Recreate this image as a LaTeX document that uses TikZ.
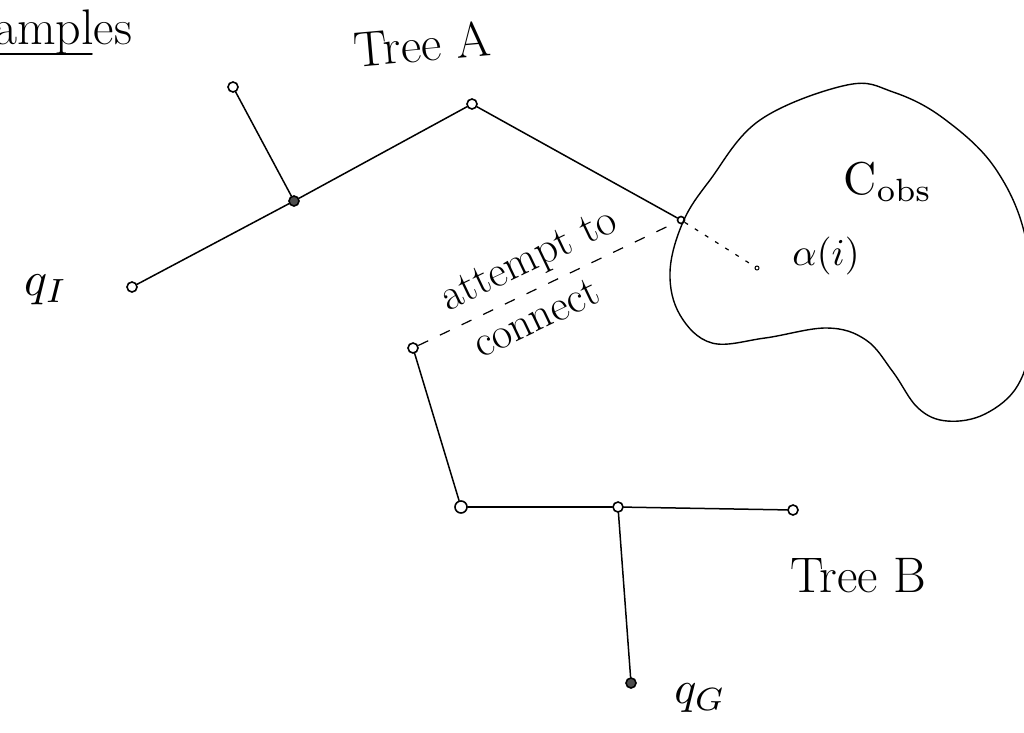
\documentclass[tikz,border=0pt]{standalone}
\begin{document}
\begin{tikzpicture}[x=1pt,y=-1pt,
  vtx/.style={circle,draw,line width=1.6pt,inner sep=0pt,minimum size=10pt},
  hub/.style={vtx,fill=black!70},
  edge/.style={line width=1.5pt,line cap=round},
  tryline/.style={line width=1.2pt,dash pattern=on 11pt off 13pt},
  probe/.style={line width=1.2pt,dash pattern=on 4pt off 8pt},
  big/.style={font=\fontsize{50}{60}\selectfont},
  mid/.style={font=\fontsize{44}{50}\selectfont,inner sep=0pt}]
\useasboundingbox (0,0) rectangle (1024,732);

% heading
\node[big,anchor=base west,inner sep=0pt] (head) at (-6,44) {amples};
\draw[edge] ([yshift=-10pt]head.base west) -- +(98,0);

% obstacle region
\draw[line width=1.4pt] plot[smooth cycle,tension=0.62] coordinates {
  (847,85) (760,120) (710,180) (683,222) (670,272) (680,315) (712,343)
  (765,338) (827,328) (866,340) (893,372) (918,408) (947,421) (985,414)
  (1018,385) (1030,335) (1026,240) (995,168) (943,118) (893,92)};
\node[inner sep=0pt] (cobs) at (888,182) {\scalebox{4.6}{C$_{\mathrm{obs}}$}};

% tree A
\node[vtx] (a1) at (233,87) {};
\node[hub] (a2) at (294,201) {};
\node[vtx] (a3) at (472,104) {};
\node[vtx,minimum size=7pt] (a4) at (681,220) {};
\node[vtx] (qi) at (132,287) {};
\draw[edge] (qi) -- (a2);
\draw[edge] (a1) -- (a2);
\draw[edge] (a2) -- (a3);
\draw[edge] (a3) -- (a4);
\node[big,rotate=5] (treeA) at (422,44) {Tree A};
\node[inner sep=0pt] (qIlabel) at (46,290) {\scalebox{4.8}{$q_I$}};

% sample inside the obstacle
\node[circle,draw,line width=1pt,inner sep=0pt,minimum size=4pt] (alpha) at (757,268) {};
\draw[probe] (a4) -- (alpha);
\node[inner sep=0pt] (alphalabel) at (826,256) {\scalebox{3.8}{$\alpha(i)$}};

% tree B
\node[vtx] (b1) at (413,348) {};
\node[vtx,minimum size=12pt] (b2) at (461,507) {};
\node[vtx] (b3) at (618,507) {};
\node[vtx] (b4) at (793,510) {};
\node[hub] (qg) at (631,683) {};
\draw[edge] (b1) -- (b2);
\draw[edge] (b2) -- (b3);
\draw[edge] (b3) -- (b4);
\draw[edge] (b3) -- (qg);
\node[big] (treeB) at (858,576) {Tree B};
\node[inner sep=0pt] (qGlabel) at (700,698) {\scalebox{4.6}{$q_G$}};

% connection attempt between the two trees
\draw[tryline] (b1) -- (a4);
\node[mid,rotate=25.5] (try1) at (530,262) {attempt to};
\node[mid,rotate=25.5] (try2) at (536,318) {connect};
\end{tikzpicture}
\end{document}
